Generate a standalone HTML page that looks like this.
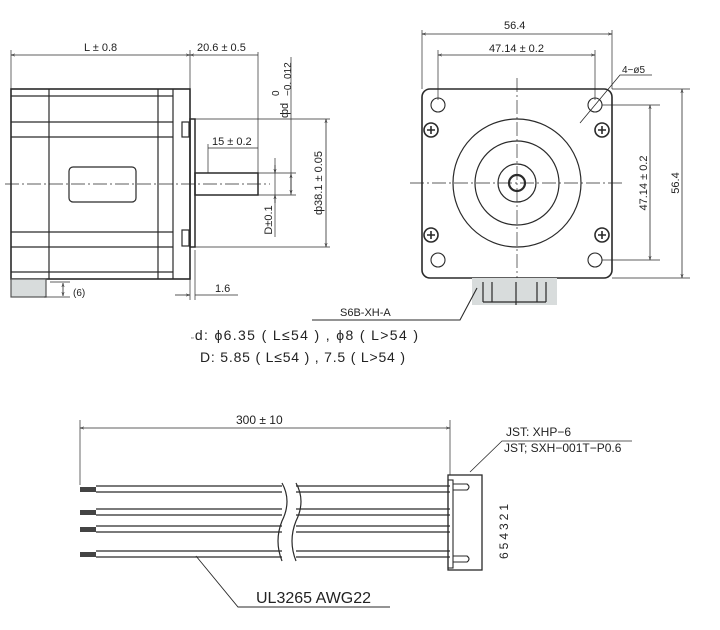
<!DOCTYPE html>
<html><head><meta charset="utf-8"><style>
html,body{margin:0;padding:0;background:#fff;}
svg{display:block;}
text{font-family:"Liberation Sans",sans-serif;fill:#222;}
</style></head><body>
<svg width="720" height="630" viewBox="0 0 720 630" xmlns="http://www.w3.org/2000/svg">
<defs>
<marker id="a" viewBox="0 0 10 10" refX="10" refY="5" markerWidth="7" markerHeight="5" orient="auto-start-reverse"><path d="M0,2 L10,5 L0,8" fill="none" stroke="#333" stroke-width="1.2"/></marker>
</defs>
<g stroke="#2a2a2a" stroke-width="1.2" fill="none">
<line x1="11" y1="55" x2="190" y2="55" marker-start="url(#a)" marker-end="url(#a)" stroke-width="0.8"/>
<line x1="190" y1="55" x2="258" y2="55" marker-start="url(#a)" stroke-width="0.8"/>
<line x1="11" y1="50" x2="11" y2="89" stroke-width="0.7"/>
<line x1="190" y1="50" x2="190" y2="300" stroke-width="0.7"/>
<line x1="258" y1="52" x2="258" y2="173" stroke-width="0.7"/>
<rect x="11" y="89" width="179" height="190" stroke-width="1.6"/>
<line x1="49" y1="89" x2="49" y2="279"/>
<line x1="158" y1="89" x2="158" y2="279"/>
<line x1="173" y1="89" x2="173" y2="279"/>
<line x1="11" y1="96" x2="173" y2="96"/>
<line x1="11" y1="122" x2="173" y2="122"/>
<line x1="11" y1="137" x2="173" y2="137"/>
<line x1="11" y1="232" x2="173" y2="232"/>
<line x1="11" y1="247" x2="173" y2="247"/>
<line x1="11" y1="272" x2="173" y2="272"/>
<rect x="69" y="167" width="67" height="35" rx="4"/>
<rect x="190" y="119" width="5" height="128" stroke-width="1.5"/>
<rect x="182" y="122" width="7" height="15"/>
<rect x="182" y="230" width="7" height="16"/>
<rect x="195" y="173" width="63" height="22" stroke-width="1.5"/>
<line x1="5" y1="184" x2="270" y2="184" stroke-dasharray="14,3,2,3" stroke-width="0.7"/>
<rect x="11" y="279" width="35" height="18" fill="#d8dcdc" stroke="#555"/>
<line x1="50" y1="282" x2="70" y2="282" stroke-width="0.7"/>
<line x1="44" y1="297" x2="70" y2="297" stroke-width="0.7"/>
<line x1="63" y1="283" x2="63" y2="296" marker-start="url(#a)" marker-end="url(#a)" stroke-width="0.8"/>
<line x1="208" y1="148" x2="258" y2="148" stroke-width="0.8"/>
<line x1="208" y1="144" x2="208" y2="173" stroke-width="0.7"/>
<line x1="258" y1="173" x2="296" y2="173" stroke-width="0.7"/>
<line x1="258" y1="195" x2="296" y2="195" stroke-width="0.7"/>
<line x1="291" y1="57" x2="291" y2="195" stroke-width="0.7"/>
<line x1="291" y1="174" x2="291" y2="194" marker-start="url(#a)" marker-end="url(#a)" stroke-width="0.8"/>
<line x1="275" y1="158" x2="275" y2="237" stroke-width="0.7"/>
<line x1="275" y1="165" x2="275" y2="173" marker-end="url(#a)" stroke-width="0.8"/>
<line x1="275" y1="203" x2="275" y2="195" marker-end="url(#a)" stroke-width="0.8"/>
<line x1="195" y1="119" x2="330" y2="119" stroke-width="0.7"/>
<line x1="195" y1="247" x2="330" y2="247" stroke-width="0.7"/>
<line x1="326" y1="119" x2="326" y2="247" marker-start="url(#a)" marker-end="url(#a)" stroke-width="0.8"/>
<line x1="195" y1="250" x2="195" y2="300" stroke-width="0.7"/>
<line x1="175" y1="295" x2="190" y2="295" marker-end="url(#a)" stroke-width="0.8"/>
<line x1="195" y1="295" x2="238" y2="295" stroke-width="0.8"/>

<line x1="422" y1="34" x2="612" y2="34" marker-start="url(#a)" marker-end="url(#a)" stroke-width="0.8"/>
<line x1="438" y1="55" x2="595" y2="55" marker-start="url(#a)" marker-end="url(#a)" stroke-width="0.8"/>
<line x1="422" y1="30" x2="422" y2="89" stroke-width="0.7"/>
<line x1="612" y1="30" x2="612" y2="89" stroke-width="0.7"/>
<line x1="438" y1="50" x2="438" y2="100" stroke-width="0.7"/>
<line x1="595" y1="50" x2="595" y2="100" stroke-width="0.7"/>
<rect x="422" y="89" width="190" height="189" rx="8" stroke-width="1.6"/>
<line x1="410" y1="183" x2="625" y2="183" stroke-dasharray="14,3,2,3" stroke-width="0.7"/>
<line x1="517" y1="78" x2="517" y2="305" stroke-dasharray="14,3,2,3" stroke-width="0.7"/>
<circle cx="517" cy="183" r="64"/>
<circle cx="517" cy="183" r="42"/>
<circle cx="517" cy="183" r="19"/>
<circle cx="517" cy="183" r="8" stroke-width="2.2"/>
<g stroke-width="1.1">
<circle cx="438" cy="105" r="7"/><circle cx="595" cy="105" r="7"/>
<circle cx="438" cy="260" r="7"/><circle cx="595" cy="260" r="7"/>
</g>
<g stroke-width="1.6">
<circle cx="431" cy="130" r="7"/><circle cx="602" cy="130" r="7"/>
<circle cx="431" cy="235" r="7"/><circle cx="602" cy="235" r="7"/>
<path d="M427,130h8M431,126v8M598,130h8M602,126v8M427,235h8M431,231v8M598,235h8M602,231v8"/>
</g>
<line x1="612" y1="89" x2="690" y2="89" stroke-width="0.7"/>
<line x1="612" y1="278" x2="690" y2="278" stroke-width="0.7"/>
<line x1="602" y1="105" x2="660" y2="105" stroke-width="0.7"/>
<line x1="602" y1="260" x2="660" y2="260" stroke-width="0.7"/>
<line x1="650" y1="105" x2="650" y2="260" marker-start="url(#a)" marker-end="url(#a)" stroke-width="0.8"/>
<line x1="682" y1="89" x2="682" y2="278" marker-start="url(#a)" marker-end="url(#a)" stroke-width="0.8"/>
<polyline points="652,75 620,75 580,123" stroke-width="0.8"/>
<rect x="472" y="278" width="85" height="27" fill="#d8dcdc" stroke="none"/>
<path d="M483,282v20M492,282v20M516,282v23M537,282v20M546,282v20M483,302h63" stroke-width="1.2"/>
<polyline points="312,320 460,320 477,288" stroke-width="1.1"/>

<line x1="80" y1="428" x2="450" y2="428" marker-start="url(#a)" marker-end="url(#a)" stroke-width="0.8"/>
<line x1="80" y1="420" x2="80" y2="485" stroke-width="0.7"/>
<line x1="450" y1="420" x2="450" y2="475" stroke-width="0.7"/>
<g stroke-width="1.2">
<path d="M96,486H282M96,492H282M296,486H450M296,492H450"/>
<path d="M96,509H282M96,515H282M296,509H450M296,515H450"/>
<path d="M96,526H282M96,532H282M296,526H450M296,532H450"/>
<path d="M96,551H282M96,557H282M296,551H450M296,557H450"/>
<path d="M282,483 q10,18 0,38 q-8,20 0,40"/>
<path d="M296,483 q10,18 0,38 q-8,20 0,40"/>
</g>
<g fill="#444" stroke="none">
<rect x="80" y="487" width="16" height="5"/><rect x="80" y="510" width="16" height="5"/>
<rect x="80" y="527" width="16" height="5"/><rect x="80" y="552" width="16" height="5"/>
</g>
<rect x="448" y="475" width="34" height="95" stroke-width="1.3"/>
<rect x="448" y="480" width="5" height="88" stroke-width="1.1"/>
<path d="M453,484h14q4,3 0,6h-14M453,556h14q4,3 0,6h-14" stroke-width="1.1"/>
<polyline points="632,441 502,441 470,472" stroke-width="0.8"/>
<polyline points="196,556 238,607 390,607" stroke-width="0.9"/>
</g>
<g font-size="11">
<text x="84" y="51">L ± 0.8</text>
<text x="197" y="51">20.6 ± 0.5</text>
<text x="212" y="145">15 ± 0.2</text>
<text x="215" y="292">1.6</text>
<text x="73" y="296" font-size="10">(6)</text>
<text transform="translate(322,183) rotate(-90)" text-anchor="middle">ф38.1 ± 0.05</text>
<text transform="translate(272,220) rotate(-90)" text-anchor="middle">D±0.1</text>
<text transform="translate(288,118) rotate(-90)">фd</text>
<text transform="translate(279,96) rotate(-90)" font-size="10">0</text>
<text transform="translate(291,96) rotate(-90)" font-size="10">−0. 012</text>
<text x="504" y="29">56.4</text>
<text x="489" y="52">47.14 ± 0.2</text>
<text x="622" y="73" font-size="10">4−ø5</text>
<text transform="translate(647,183) rotate(-90)" text-anchor="middle">47.14 ± 0.2</text>
<text transform="translate(679,183) rotate(-90)" text-anchor="middle">56.4</text>
<text x="340" y="316" font-size="11">S6B-XH-A</text>
<text x="236" y="424" font-size="12">300 ± 10</text>
<text x="506" y="436" font-size="12">JST: XHP−6</text>
<text x="504" y="452" font-size="12">JST; SXH−001T−P0.6</text>
<text transform="translate(508,530) rotate(-90)" text-anchor="middle" font-size="12" letter-spacing="3">654321</text>
</g>
<text x="191" y="340" font-size="14" textLength="227" lengthAdjust="spacing"><tspan font-size="7">▫</tspan>d: ϕ6.35 ( L≤54 ) ,  ϕ8 ( L&gt;54 )</text>
<text x="200" y="362" font-size="14" textLength="205" lengthAdjust="spacing">D: 5.85 ( L≤54 ) ,  7.5 ( L&gt;54 )</text>
<text x="256" y="603" font-size="16">UL3265 AWG22</text>
</svg>
</body></html>
